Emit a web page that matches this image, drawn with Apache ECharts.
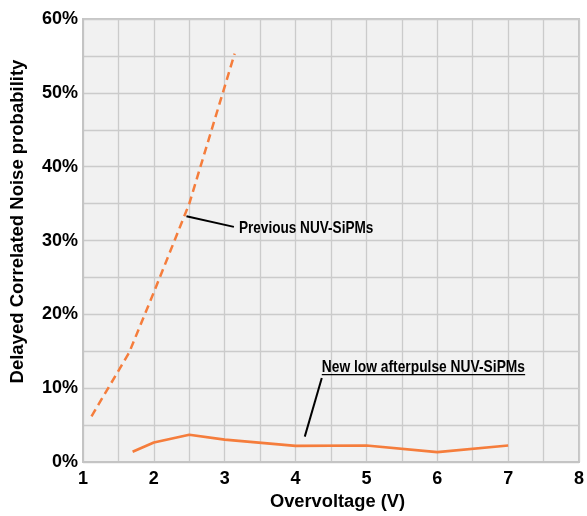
<!DOCTYPE html>
<html>
<head>
<meta charset="utf-8">
<script src="https://cdn.jsdelivr.net/npm/echarts@6/dist/echarts.min.js"></script>
<style>
html,body{margin:0;padding:0;background:#fff;}
#c{width:587px;height:516px;}
</style>
</head>
<body>
<div id="c"></div>
<script>
// Data (overvoltage V, delayed correlated noise probability %)
var previousX = [1.12, 1.65, 2.0, 2.5, 3.14];
var previousY = [6.2, 14.8, 23.0, 35.0, 55.3];
var newX = [1.7, 2.0, 2.5, 3.0, 4.0, 5.0, 6.0, 7.0];
var newY = [1.4, 2.65, 3.7, 3.05, 2.2, 2.25, 1.35, 2.25];
var xTicks = [1, 2, 3, 4, 5, 6, 7, 8];
var yTicks = [0, 10, 20, 30, 40, 50, 60];
var previousLabel = 'Previous NUV-SiPMs';
var newLabel = 'New low afterpulse NUV-SiPMs';
// annotation anchors in data space
var prevLeader = [[2.46, 33.3], [3.13, 31.85]];
var prevText = [3.20, 31.6];
var newLeader = [[4.37, 11.4], [4.13, 3.45]];
var newText = [4.37, 12.85];
var newUnderline = [[4.37, 11.85], [7.24, 11.85]];

var orange = '#F57D3C';
var font = '"Liberation Sans", Arial, sans-serif';

function zip(xs, ys){ return xs.map(function(x,i){ return [x, ys[i]]; }); }

var chart = echarts.init(document.getElementById('c'), null, {renderer:'canvas'});
chart.setOption({
  animation: false,
  backgroundColor: '#ffffff',
  grid: {left: 82, right: 6, top: 19, bottom: 51, show: true,
         backgroundColor: '#f1f1f1', borderColor: '#c6c6c6', borderWidth: 2},
  xAxis: {
    type: 'value', min: xTicks[0], max: xTicks[xTicks.length-1], interval: 1,
    name: 'Overvoltage (V)', nameLocation: 'middle', nameGap: 27,
    nameTextStyle: {fontFamily: font, fontWeight: 'bold', fontSize: 18.3, color: '#000', padding: [0,0,0,13]},
    axisLine: {show: true, lineStyle: {color: '#c4c4c4', width: 2}},
    axisTick: {show: false},
    axisLabel: {fontFamily: font, fontWeight: 'bold', fontSize: 18, color: '#000', margin: 8},
    splitLine: {show: true, lineStyle: {color: '#cbcbcb', width: 1.3}},
    minorTick: {show: false, splitNumber: 2},
    minorSplitLine: {show: true, lineStyle: {color: '#cbcbcb', width: 1.3}}
  },
  yAxis: {
    type: 'value', min: yTicks[0], max: yTicks[yTicks.length-1], interval: 10,
    name: 'Delayed Correlated Noise probability', nameLocation: 'middle', nameGap: 56,
    nameTextStyle: {fontFamily: font, fontWeight: 'bold', fontSize: 18.5, color: '#000', padding: [0,0,0,38]},
    axisLine: {show: true, lineStyle: {color: '#c4c4c4', width: 2}},
    axisTick: {show: false},
    axisLabel: {fontFamily: font, fontWeight: 'bold', fontSize: 18, color: '#000', margin: 5, formatter: '{value}%'},
    splitLine: {show: true, lineStyle: {color: '#cbcbcb', width: 1.3}},
    minorTick: {show: false, splitNumber: 2},
    minorSplitLine: {show: true, lineStyle: {color: '#cbcbcb', width: 1.3}}
  },
  series: [
    {type: 'line', name: previousLabel, data: zip(previousX, previousY), showSymbol: false, symbol: 'none',
     lineStyle: {color: orange, width: 2.5, type: [8, 5]}, z: 3},
    {type: 'line', name: newLabel, data: zip(newX, newY), showSymbol: false, symbol: 'none',
     lineStyle: {color: orange, width: 2.7}, z: 3}
  ]
});

function px(p){ return chart.convertToPixel({gridIndex: 0}, p); }
var a1 = px(prevLeader[0]), a2 = px(prevLeader[1]);
var b1 = px(newLeader[0]), b2 = px(newLeader[1]);
var u1 = px(newUnderline[0]), u2 = px(newUnderline[1]);
var t1 = px(prevText), t2 = px(newText);
chart.setOption({
  graphic: [
    {type: 'line', shape: {x1: a1[0], y1: a1[1], x2: a2[0], y2: a2[1]}, style: {stroke: '#000', lineWidth: 2}, z: 10},
    {type: 'line', shape: {x1: b1[0], y1: b1[1], x2: b2[0], y2: b2[1]}, style: {stroke: '#000', lineWidth: 2}, z: 10},
    {type: 'line', shape: {x1: u1[0], y1: u1[1], x2: u2[0], y2: u2[1]}, style: {stroke: '#000', lineWidth: 1.2}, z: 10},
    {type: 'text', x: t1[0], y: t1[1], scaleX: 0.815, style: {text: previousLabel, fill: '#000', font: 'bold 16.7px ' + font, textAlign: 'left', textVerticalAlign: 'middle'}, z: 10},
    {type: 'text', x: t2[0], y: t2[1], scaleX: 0.827, style: {text: newLabel, fill: '#000', font: 'bold 16.7px ' + font, textAlign: 'left', textVerticalAlign: 'middle'}, z: 10}
  ]
});
</script>
</body>
</html>
